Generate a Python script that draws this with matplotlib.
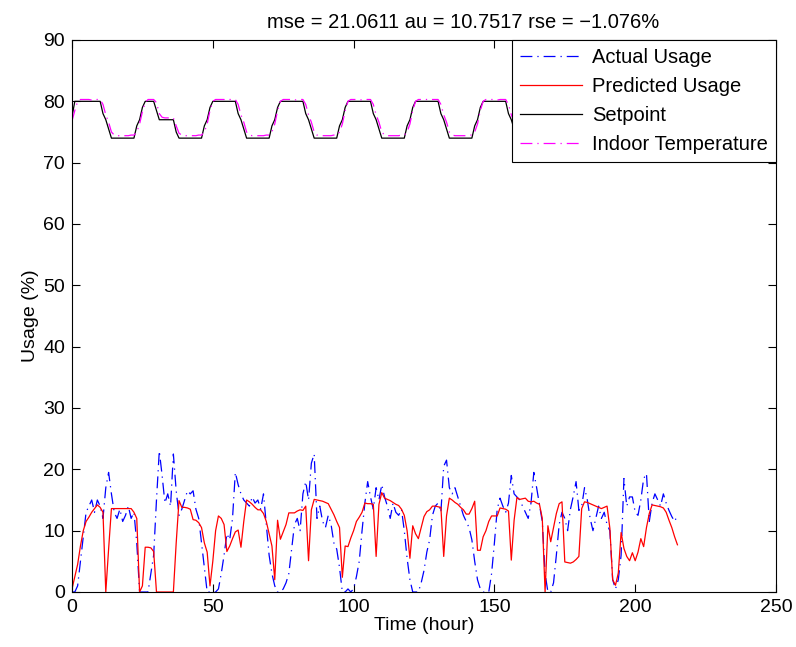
# -*- coding: utf-8 -*-
# Actual vs predicted usage with setpoint and indoor temperature (MATLAB-style figure)

import numpy as np
import matplotlib
matplotlib.use("Agg")
import matplotlib.pyplot as plt

plt.rcParams['font.family'] = ['Liberation Sans', 'DejaVu Sans']

# ============================================================
# Data (hourly, t = 0 .. 215)
# ============================================================

hours = list(range(216))

actual_usage = [
    0, 0, 1, 5, 9, 13, 14, 15, 13, 15, 14, 12, 17, 19.5, 16, 13, 12, 13.5, 11.5, 12.5, 14, 12, 13, 8,
    0, 0, 0, 0, 3, 6, 15, 23, 19, 14.5, 16, 14, 22.5, 16.5, 12.5, 13.5, 15, 16.5, 16, 16.5, 13.5, 12, 8, 4,
    0, 0, 0, 0, 0.5, 3, 6, 9.5, 8.5, 12, 19.5, 17.5, 16, 15, 14.5, 14, 15.5, 14.5, 15, 13.5, 16, 11, 6, 3,
    1, 0, 0, 0.5, 1.5, 3, 7, 11, 12, 10, 16, 18, 15, 21, 22.5, 12, 14, 11.5, 10.5, 12.5, 11, 8, 7, 4,
    0, 0, 0.5, 0, 0.5, 2.5, 5, 10, 14.5, 18, 15.5, 13.5, 17, 15, 17.5, 15.5, 14, 12, 14.5, 13, 12.5, 13.5, 10, 5.5,
    2, 0, 0, 0, 1.5, 3.5, 6.5, 8.5, 12.5, 14, 14.5, 13, 20.5, 21.5, 17, 16, 17, 15.5, 14, 12.5, 11.5, 10.5, 8.5, 5,
    2, 0.5, 0, 0, 0, 3, 8, 13.5, 15.3, 14, 13, 14.5, 19, 16, 15.5, 15, 14, 13, 12, 14.5, 19.5, 17, 14.3, 11.5,
    3, 0, 0, 1.5, 6, 11, 13, 12, 10, 13.5, 15.6, 18, 13.3, 14, 17, 15, 12, 10, 12, 14, 12, 13, 11, 10,
    2, 0.5, 2, 6, 18.5, 14, 15.5, 15.5, 13, 12.5, 15, 18.5, 19.3, 11.5, 14.5, 16, 15, 14, 16, 14.5, 13.3, 12.3, 11.5, 12.5,
]

predicted_usage = [
    0.5, 2.5, 4.5, 7.5, 10, 11.5, 12.2, 13, 13.6, 14.2, 13.8, 13, 0, 7, 13.6, 13.6, 13.6, 13.6, 13.6, 13.6, 13.6, 13.6, 13, 12,
    0, 1, 7.3, 7.3, 7.2, 6.6, 0, 0, 0, 0, 0, 0, 0, 8, 14.9, 13.8, 13.8, 13.7, 13.5, 11.8, 11.7, 11.3, 10.5, 8,
    6.5, 1, 5, 10, 12.4, 12, 11, 6.6, 7.5, 8.7, 9.8, 10.1, 7.3, 11.5, 15, 14.7, 14.3, 13.8, 13.4, 13.4, 12.8, 11.5, 9.5, 7.5,
    2, 11.7, 8.6, 9.8, 11, 12.9, 12.9, 12.9, 13.2, 13.4, 13.3, 14, 5.1, 13.4, 15.1, 15, 14.9, 14.8, 14.6, 14.4, 13.5, 12.6, 11.5, 10.5,
    2.4, 7.5, 7.4, 8.8, 10, 11.5, 12.2, 13, 14.5, 14.4, 14.4, 14.3, 5.8, 14.3, 16.2, 15.3, 15.1, 14.9, 14.6, 14.3, 14.1, 13.5, 12.5, 10,
    5.5, 10.8, 9.5, 8.7, 10.5, 12.3, 13.1, 13.4, 14, 14, 13.9, 13.8, 5.8, 12.4, 15.3, 15, 14.6, 14.3, 13.8, 13.4, 12.7, 12.7, 13.6, 14.8,
    6.8, 6.8, 9, 10, 11.5, 12.4, 12.4, 12.4, 13.7, 13.6, 13.5, 13.2, 5.2, 11.7, 15.4, 15.1, 15.2, 15.3, 14.8, 14.7, 14.8, 14.5, 14.3, 12,
    0, 10.8, 8.2, 10.5, 12.8, 14.4, 14.7, 4.9, 4.8, 4.7, 4.9, 5.3, 5.8, 13.6, 14.7, 14.6, 14.4, 14.2, 14, 13.8, 13.6, 13.8, 14, 10.4,
    2, 1.1, 3.1, 9.7, 7.1, 5.8, 5.1, 6.4, 5.1, 6.5, 8.7, 7.4, 10.5, 12.8, 14.2, 14.1, 14, 13.9, 13.7, 13, 11.7, 10.5, 9, 7.7,
]

setpoint = [
    77.5, 80, 80, 80, 80, 80, 80, 80, 80, 80, 80, 78, 77, 75.5, 74, 74, 74, 74, 74, 74, 74, 74, 74, 76,
    77, 79, 80, 80, 80, 80, 78.5, 77, 77, 77, 77, 77, 77, 75, 74, 74, 74, 74, 74, 74, 74, 74, 74, 76,
    77, 79, 80, 80, 80, 80, 80, 80, 80, 80, 80, 78, 77, 75.5, 74, 74, 74, 74, 74, 74, 74, 74, 74, 76,
    77, 79, 80, 80, 80, 80, 80, 80, 80, 80, 80, 78, 77, 75.5, 74, 74, 74, 74, 74, 74, 74, 74, 74, 76,
    77, 79, 80, 80, 80, 80, 80, 80, 80, 80, 80, 78, 77, 75.5, 74, 74, 74, 74, 74, 74, 74, 74, 74, 76,
    77, 79, 80, 80, 80, 80, 80, 80, 80, 80, 80, 78, 77, 75.5, 74, 74, 74, 74, 74, 74, 74, 74, 74, 76,
    77, 79, 80, 80, 80, 80, 80, 80, 80, 80, 80, 78, 77, 75.5, 74, 74, 74, 74, 74, 74, 74, 74, 74, 76,
    77, 79, 80, 80, 80, 80, 78.5, 77, 77, 77, 77, 77, 77, 75, 74, 74, 74, 74, 74, 74, 74, 74, 74, 76,
    77, 79, 80, 80, 80, 80, 80, 80, 80, 80, 80, 78, 77, 75.5, 74, 74, 74, 74, 74, 74, 74, 74, 74, 76,
]

indoor_temp = [
    76.8, 78.5, 80.0, 80.3, 80.3, 80.3, 80.3, 80.2, 80.3, 80.3, 80.3, 79.5, 77.8, 76.6, 75.0, 74.5, 74.4, 74.4, 74.4, 74.4, 74.4, 74.5, 74.5, 75.0,
    76.3, 78.3, 79.8, 80.3, 80.3, 80.3, 79.8, 78.0, 77.4, 77.3, 77.3, 77.3, 77.3, 76.0, 74.8, 74.5, 74.4, 74.4, 74.4, 74.4, 74.4, 74.5, 74.5, 75.0,
    76.3, 78.5, 80.0, 80.3, 80.3, 80.3, 80.3, 80.2, 80.3, 80.3, 80.3, 79.5, 77.8, 76.6, 75.0, 74.5, 74.4, 74.4, 74.4, 74.4, 74.4, 74.5, 74.5, 75.0,
    76.3, 78.5, 80.0, 80.3, 80.3, 80.3, 80.3, 80.2, 80.3, 80.3, 80.3, 79.5, 77.8, 76.6, 75.0, 74.5, 74.4, 74.4, 74.4, 74.4, 74.4, 74.5, 74.5, 75.0,
    76.3, 78.5, 80.0, 80.3, 80.3, 80.3, 80.3, 80.2, 80.3, 80.3, 80.3, 79.5, 77.8, 76.6, 75.0, 74.5, 74.4, 74.4, 74.4, 74.4, 74.4, 74.5, 74.5, 75.0,
    76.3, 78.5, 80.0, 80.3, 80.3, 80.3, 80.3, 80.2, 80.3, 80.3, 80.3, 79.5, 77.8, 76.6, 75.0, 74.5, 74.4, 74.4, 74.4, 74.4, 74.4, 74.5, 74.5, 75.0,
    76.3, 78.5, 80.0, 80.3, 80.3, 80.3, 80.3, 80.2, 80.3, 80.3, 80.3, 79.5, 77.8, 76.6, 75.0, 74.5, 74.4, 74.4, 74.4, 74.4, 74.4, 74.5, 74.5, 75.0,
    76.3, 78.3, 79.8, 80.3, 80.3, 80.3, 79.8, 78.0, 77.4, 77.3, 77.3, 77.3, 77.3, 76.0, 74.8, 74.5, 74.4, 74.4, 74.4, 74.4, 74.4, 74.5, 74.5, 75.0,
    76.3, 78.5, 80.0, 80.3, 80.3, 80.3, 80.3, 80.2, 80.3, 80.3, 80.3, 79.5, 77.8, 76.6, 75.0, 74.5, 74.4, 74.4, 74.4, 74.4, 74.4, 74.5, 74.5, 75.0,
]

title_text = "mse = 21.0611 au = 10.7517 rse = \u22121.076%"

# ============================================================
# Plot
# ============================================================

fig = plt.figure(figsize=(7.96, 6.47), dpi=100)
ax = fig.add_axes([72 / 796, 55 / 647, 704 / 796, 552 / 647])

lw = 0.9
dashdot = (0, (9.5, 4, 1, 4))
ax.plot(hours, actual_usage, color=(0, 0, 1), lw=lw, linestyle=dashdot, label="Actual Usage")
ax.plot(hours, predicted_usage, color=(1, 0, 0), lw=lw, label="Predicted Usage")
ax.plot(hours, setpoint, color='black', lw=lw, label="Setpoint")
ax.plot(hours, indoor_temp, color=(1, 0, 1), lw=lw, linestyle=dashdot, label="Indoor Temperature")

ax.set_xlim(0, 250)
ax.set_ylim(0, 90)
ax.set_xticks(np.arange(0, 251, 50))
ax.set_yticks(np.arange(0, 91, 10))
ax.tick_params(direction='in', top=True, right=True, length=6, width=0.8,
               labelsize=14, pad=5)
for s in ax.spines.values():
    s.set_linewidth(0.8)

ax.set_xlabel("Time (hour)", fontsize=14, labelpad=1)
ax.set_ylabel("Usage (%)", fontsize=14, labelpad=3)
ax.set_title(title_text, fontsize=14.5, pad=9, x=0.555)

leg = ax.legend(loc='upper right', borderaxespad=0, fancybox=False, framealpha=1,
                edgecolor='black', fontsize=14.5, handlelength=3.1, handletextpad=0.5,
                labelspacing=0.5, borderpad=0.4)
leg.get_frame().set_linewidth(0.8)

plt.savefig("out.png", dpi=100)
